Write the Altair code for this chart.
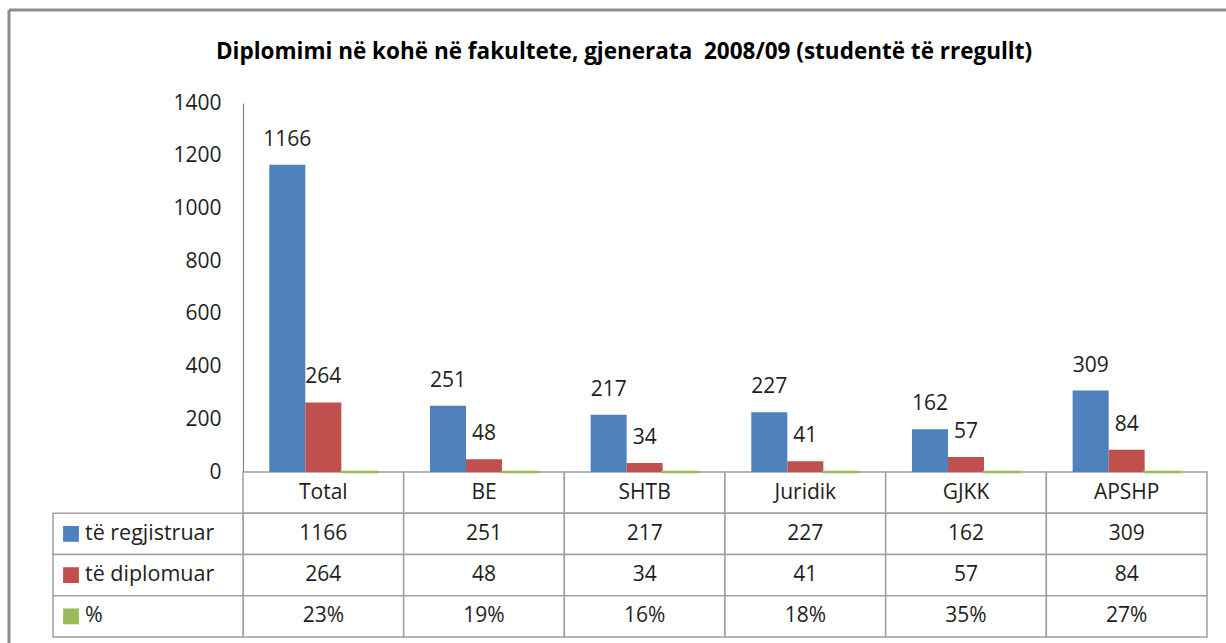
import altair as alt
import pandas as pd

# ---- data ----
categories = ["Total", "BE", "SHTB", "Juridik", "GJKK", "APSHP"]
series_names = ["të regjistruar", "të diplomuar", "%"]
registered = [1166, 251, 217, 227, 162, 309]
graduated = [264, 48, 34, 41, 57, 84]
percent = [23, 19, 16, 18, 35, 27]
y_ticks = [0, 200, 400, 600, 800, 1000, 1200, 1400]
title_text = "Diplomimi në kohë në fakultete, gjenerata \u00a02008/09 (studentë të rregullt)"

colors = ["#4F81BD", "#C0504D", "#9BBB59"]
FONT = "Open Sans"
TXT = "#1e1e1e"
GRID = "#a0a0a0"

W, H = 1217, 633
row_keys = ["h", "r1", "r2", "r3"]

# long table for bars
bar_rows = []
for i, c in enumerate(categories):
    bar_rows.append({"cat": c, "series": series_names[0], "value": registered[i], "label": str(registered[i])})
    bar_rows.append({"cat": c, "series": series_names[1], "value": graduated[i], "label": str(graduated[i])})
    bar_rows.append({"cat": c, "series": series_names[2], "value": percent[i] / 100, "label": f"{percent[i]}%"})
bars_df = pd.DataFrame(bar_rows)

# table cells
cell_rows = []
for i, c in enumerate(categories):
    cell_rows.append({"cat": c, "row": "h", "text": c})
    cell_rows.append({"cat": c, "row": "r1", "text": str(registered[i])})
    cell_rows.append({"cat": c, "row": "r2", "text": str(graduated[i])})
    cell_rows.append({"cat": c, "row": "r3", "text": f"{percent[i]}%"})
cells_df = pd.DataFrame(cell_rows)

legend_df = pd.DataFrame({"row": ["r1", "r2", "r3"], "series": series_names})

x_scale = alt.Scale(domain=categories, range=[234, 1198], paddingInner=0, paddingOuter=0)
xo_scale = alt.Scale(domain=series_names, paddingInner=0, paddingOuter=0.73)
y_scale = alt.Scale(domain=[0, 1400], range=[462, 93], nice=False, zero=True)
row_scale = alt.Scale(domain=row_keys, range=[462, 627], paddingInner=0, paddingOuter=0)
color_scale = alt.Scale(domain=series_names, range=colors)

X = alt.X("cat:N", scale=x_scale, axis=None, sort=categories)
XO = alt.XOffset("series:N", scale=xo_scale, sort=series_names)
ROW = alt.Y("row:N", scale=row_scale, axis=None, sort=row_keys)
COL = alt.Color("series:N", scale=color_scale, legend=None)

base_bars = alt.Chart(bars_df)

# frame (top and left edges)
frame_top = alt.Chart(pd.DataFrame({"a": [0]})).mark_rule(color="#8c8c8c", strokeWidth=3).encode(
    x=alt.value(0), x2=alt.value(W), y=alt.value(0))
frame_left = alt.Chart(pd.DataFrame({"a": [0]})).mark_rule(color="#8c8c8c", strokeWidth=3).encode(
    x=alt.value(0), y=alt.value(0), y2=alt.value(H))

# table grid
grid_cells = alt.Chart(cells_df).mark_rect(fill="white", stroke=GRID, strokeWidth=1.5).encode(x=X, y=ROW)
label_cells = alt.Chart(legend_df).mark_rect(fill="white", stroke=GRID, strokeWidth=1.5).encode(
    x=alt.value(44), x2=alt.value(234), y=ROW)

# bars
bars = base_bars.transform_filter(alt.datum.series != "%").mark_bar().encode(
    x=X, xOffset=XO,
    y=alt.Y("value:Q", scale=y_scale,
            axis=alt.Axis(values=y_ticks, format="d", offset=-234, ticks=False, grid=False,
                          domainColor="#868686", domainWidth=1.2, labelFont=FONT, labelFontSize=21,
                          labelColor=TXT, labelPadding=22, title=None)),
    color=COL)
pct_bars = base_bars.transform_filter(alt.datum.series == "%").mark_bar(strokeWidth=2.5).encode(
    x=X, xOffset=XO, y=alt.Y("value:Q", scale=y_scale, axis=None), color=COL,
    stroke=alt.Stroke("series:N", scale=color_scale, legend=None))

bar_labels = base_bars.transform_filter(alt.datum.series != "%").mark_text(
    font=FONT, fontSize=21, color=TXT, baseline="alphabetic", dy=-19).encode(
    x=X, xOffset=XO, y=alt.Y("value:Q", scale=y_scale, axis=None), text="label:N")

# table text
table_text = alt.Chart(cells_df).mark_text(font=FONT, fontSize=21, color=TXT, baseline="middle").encode(
    x=X, y=ROW, text="text:N")

legend_keys = alt.Chart(legend_df).mark_point(shape="square", filled=True, size=250, opacity=1).encode(
    x=alt.value(62), y=ROW, color=COL)
legend_text = alt.Chart(legend_df).mark_text(font=FONT, fontSize=21.5, color=TXT, align="left", baseline="middle").encode(
    x=alt.value(76), y=ROW, text="series:N")

title = alt.Chart(pd.DataFrame({"t": [title_text]})).mark_text(
    font=FONT, fontSize=22.5, fontWeight="bold", color="#000000", align="center", baseline="middle").encode(
    x=alt.value(615), y=alt.value(42), text="t:N")

chart = alt.layer(
    frame_top, frame_left, grid_cells, label_cells, bars, pct_bars, bar_labels,
    table_text, legend_keys, legend_text, title
).resolve_scale(y="independent").properties(
    width=W, height=H,
    autosize=alt.AutoSizeParams(type="none"),
    padding={"left": 9, "top": 10, "right": 0, "bottom": 0},
    background="white",
).configure_view(stroke=None)

chart.save("out.html", embed_options={"renderer": "svg", "actions": False})
